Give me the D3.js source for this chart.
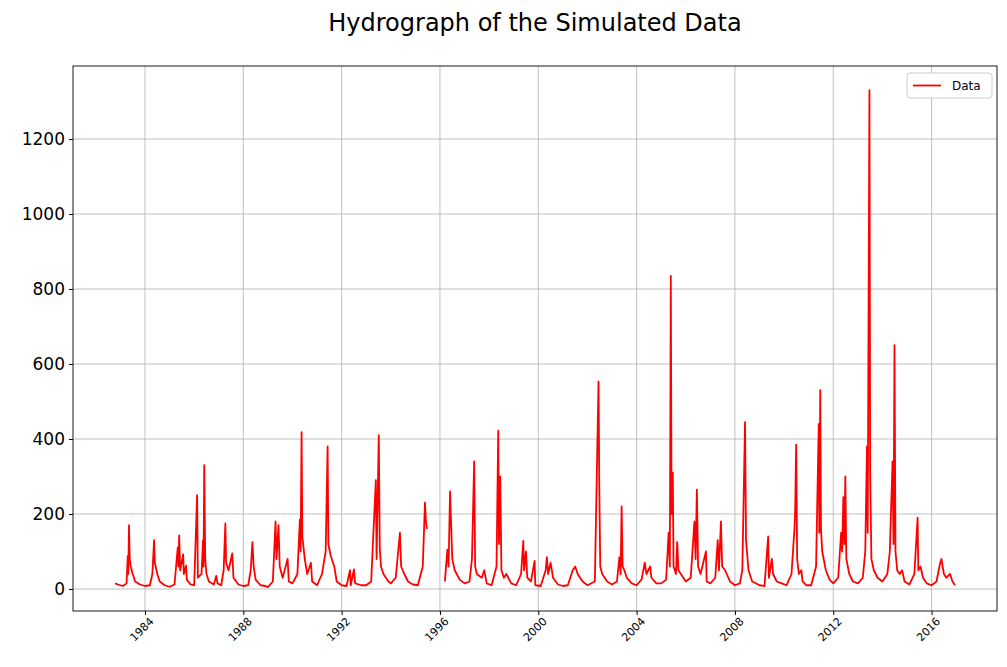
<!DOCTYPE html>
<html><head><meta charset="utf-8">
<script src="https://d3js.org/d3.v7.min.js"></script>
<style>body{margin:0;background:#fff;font-family:"DejaVu Sans",sans-serif}</style>
</head><body><svg id="c" width="1007" height="667"></svg>
<script>
const title = "Hydrograph of the Simulated Data";
const seriesName = "Data";
const yTicks = [0,200,400,600,800,1000,1200];
const xTickYears = [1984,1988,1992,1996,2000,2004,2008,2012,2016];
// [decimal year, flow]; null marks a gap in the record
const points = [
[1982.78,15],[1982.9,12],[1983.0,10],[1983.1,8],[1983.25,15],[1983.3,88],[1983.32,40],[1983.35,170],[1983.38,80],[1983.42,60],[1983.5,40],[1983.6,20],[1983.8,12],[1984.0,8],[1984.2,10],[1984.3,40],[1984.37,130],[1984.4,70],[1984.5,40],[1984.6,20],[1984.8,10],[1985.0,6],[1985.2,12],[1985.33,110],[1985.36,60],[1985.39,143],[1985.43,50],[1985.55,92],[1985.58,40],[1985.67,62],[1985.7,25],[1985.85,12],[1986.0,10],[1986.12,250],[1986.15,30],[1986.3,40],[1986.36,130],[1986.38,60],[1986.41,330],[1986.45,80],[1986.5,40],[1986.6,20],[1986.8,12],[1986.9,35],[1986.95,15],[1987.1,10],[1987.2,50],[1987.27,175],[1987.3,70],[1987.4,50],[1987.55,95],[1987.6,30],[1987.8,12],[1988.0,8],[1988.2,10],[1988.3,50],[1988.37,125],[1988.42,60],[1988.5,25],[1988.7,10],[1988.9,8],[1989.0,5],[1989.2,20],[1989.31,180],[1989.35,80],[1989.43,170],[1989.48,60],[1989.6,30],[1989.8,80],[1989.85,20],[1990.0,15],[1990.2,40],[1990.3,185],[1990.33,100],[1990.37,418],[1990.4,140],[1990.5,80],[1990.6,40],[1990.75,70],[1990.8,20],[1991.0,10],[1991.2,40],[1991.35,100],[1991.43,380],[1991.46,120],[1991.55,90],[1991.7,60],[1991.8,20],[1992.0,10],[1992.2,8],[1992.34,50],[1992.37,10],[1992.5,52],[1992.55,15],[1992.8,10],[1993.0,10],[1993.2,20],[1993.39,290],[1993.42,80],[1993.51,410],[1993.55,110],[1993.6,60],[1993.7,40],[1993.9,20],[1994.0,15],[1994.2,30],[1994.37,150],[1994.42,60],[1994.55,40],[1994.7,20],[1994.9,12],[1995.1,10],[1995.3,60],[1995.39,230],[1995.43,180],[1995.47,160],null,
[1996.2,20],[1996.3,105],[1996.35,60],[1996.41,260],[1996.45,180],[1996.5,80],[1996.6,50],[1996.8,25],[1997.0,15],[1997.2,20],[1997.3,80],[1997.39,340],[1997.43,60],[1997.5,40],[1997.7,30],[1997.8,50],[1997.9,15],[1998.1,10],[1998.3,60],[1998.37,422],[1998.4,120],[1998.45,300],[1998.5,50],[1998.6,30],[1998.7,40],[1998.9,15],[1999.1,10],[1999.3,40],[1999.39,128],[1999.42,50],[1999.5,100],[1999.55,30],[1999.7,20],[1999.85,75],[1999.88,10],[2000.1,8],[2000.3,50],[2000.35,85],[2000.4,40],[2000.5,70],[2000.6,30],[2000.8,12],[2001.0,8],[2001.2,10],[2001.4,50],[2001.5,60],[2001.6,40],[2001.8,20],[2002.0,10],[2002.3,20],[2002.45,553],[2002.48,280],[2002.52,60],[2002.6,40],[2002.8,20],[2003.0,12],[2003.2,20],[2003.3,85],[2003.35,40],[2003.39,220],[2003.43,60],[2003.5,50],[2003.6,30],[2003.8,15],[2004.0,10],[2004.2,25],[2004.33,70],[2004.4,40],[2004.55,60],[2004.6,30],[2004.8,15],[2005.0,15],[2005.2,25],[2005.3,150],[2005.35,60],[2005.39,835],[2005.42,200],[2005.47,310],[2005.5,60],[2005.6,40],[2005.65,125],[2005.7,50],[2005.8,40],[2006.0,20],[2006.2,30],[2006.35,180],[2006.4,80],[2006.45,265],[2006.5,60],[2006.6,40],[2006.82,100],[2006.85,20],[2007.0,15],[2007.2,30],[2007.3,130],[2007.35,50],[2007.43,180],[2007.48,60],[2007.6,50],[2007.8,20],[2008.0,10],[2008.2,15],[2008.3,50],[2008.41,445],[2008.45,130],[2008.55,50],[2008.7,20],[2009.0,10],[2009.2,8],[2009.35,140],[2009.38,30],[2009.5,80],[2009.55,40],[2009.7,20],[2009.9,15],[2010.1,10],[2010.3,40],[2010.42,160],[2010.45,210],[2010.49,385],[2010.53,80],[2010.6,40],[2010.7,50],[2010.75,20],[2010.9,10],[2011.1,10],[2011.3,60],[2011.41,440],[2011.43,150],[2011.47,530],[2011.5,160],[2011.55,100],[2011.7,50],[2011.85,25],[2012.0,15],[2012.2,30],[2012.32,150],[2012.36,100],[2012.41,245],[2012.45,120],[2012.49,300],[2012.53,80],[2012.65,40],[2012.8,20],[2013.0,15],[2013.2,30],[2013.3,100],[2013.37,380],[2013.4,150],[2013.47,1330],[2013.5,300],[2013.55,80],[2013.65,50],[2013.8,30],[2014.0,20],[2014.2,40],[2014.3,100],[2014.41,340],[2014.45,120],[2014.49,650],[2014.53,100],[2014.6,50],[2014.7,40],[2014.8,50],[2014.9,20],[2015.1,12],[2015.3,40],[2015.43,190],[2015.46,50],[2015.55,60],[2015.65,30],[2015.8,15],[2016.0,10],[2016.2,20],[2016.35,70],[2016.4,80],[2016.5,40],[2016.6,30],[2016.75,40],[2016.85,20],[2016.95,10]
];
function toDate(y){const yr=Math.floor(y);const s=new Date(yr,0,1),e=new Date(yr+1,0,1);return new Date(+s+(y-yr)*(e-s));}
const L=73,R=997,T=66,B=611;
const svg=d3.select("#c");
const x=d3.scaleTime().domain([toDate(1981.07),toDate(2018.66)]).range([L,R]);
const y=d3.scaleLinear().domain([-58.7,1394.7]).range([B,T]);
svg.append("g").selectAll("line").data(xTickYears).join("line")
 .attr("x1",d=>x(new Date(d,0,1))).attr("x2",d=>x(new Date(d,0,1))).attr("y1",T).attr("y2",B)
 .attr("stroke","#b0b0b0").attr("stroke-width",0.8);
svg.append("g").selectAll("line").data(yTicks).join("line")
 .attr("x1",L).attr("x2",R).attr("y1",d=>y(d)).attr("y2",d=>y(d))
 .attr("stroke","#b0b0b0").attr("stroke-width",0.8);
const line=d3.line().defined(d=>d!==null).x(d=>x(toDate(d[0]))).y(d=>y(d[1]));
svg.append("path").datum(points).attr("d",line).attr("fill","none").attr("stroke","red").attr("stroke-width",1.8).attr("stroke-linejoin","round");
svg.append("rect").attr("x",L).attr("y",T).attr("width",R-L).attr("height",B-T).attr("fill","none").attr("stroke","#000").attr("stroke-width",0.9);
const ya=svg.append("g").attr("transform",`translate(${L},0)`).call(d3.axisLeft(y).tickValues(yTicks).tickSize(4).tickPadding(4).tickFormat(d3.format("d")));
ya.select(".domain").remove();
ya.selectAll("text").attr("font-size",17).attr("font-family","DejaVu Sans").attr("fill","#000");
const xa=svg.append("g").attr("transform",`translate(0,${B})`).call(d3.axisBottom(x).tickValues(xTickYears.map(d=>new Date(d,0,1))).tickSize(4).tickFormat(d3.timeFormat("%Y")));
xa.select(".domain").remove();
xa.selectAll("text").attr("font-size",11).attr("font-family","DejaVu Sans").attr("fill","#000")
 .attr("text-anchor","middle").attr("dy",null).attr("y",null).attr("transform","translate(-1,21) rotate(-45)");
svg.append("text").attr("x",535).attr("y",31).attr("text-anchor","middle").attr("font-size",24).attr("font-family","DejaVu Sans").text(title);
const lg=svg.append("g").attr("transform","translate(907,73)");
lg.append("rect").attr("width",85).attr("height",25).attr("rx",3).attr("fill","#fff").attr("stroke","#ccc");
lg.append("line").attr("x1",6).attr("x2",34).attr("y1",12.5).attr("y2",12.5).attr("stroke","red").attr("stroke-width",1.8);
lg.append("text").attr("x",45).attr("y",17).attr("font-size",12).attr("font-family","DejaVu Sans").text(seriesName);
</script></body></html>
